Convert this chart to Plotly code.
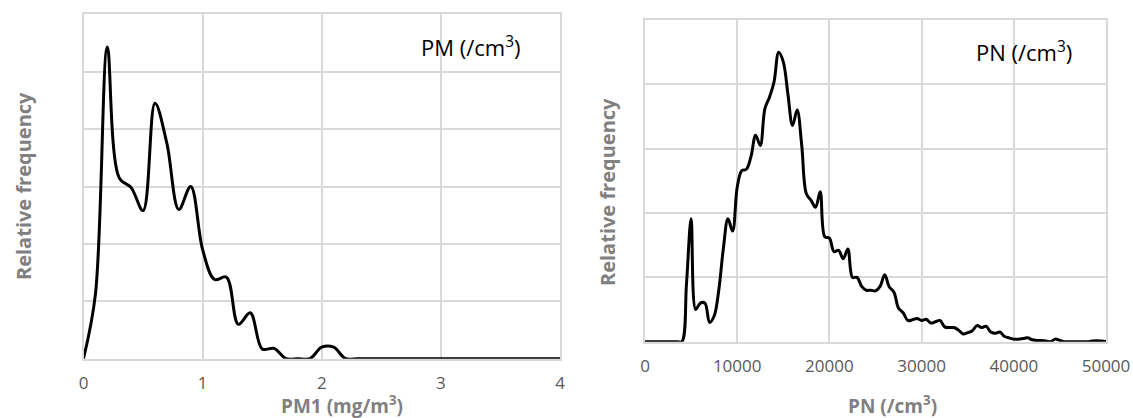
import plotly.graph_objects as go

# ---------------- data ----------------
# PM1 histogram (bins of 0.1 mg/m3), relative frequency (arbitrary units, grid = 1)
pm_x = [0.0, 0.1, 0.2, 0.3, 0.4, 0.5, 0.6, 0.7, 0.8, 0.9,
        1.0, 1.1, 1.2, 1.3, 1.4, 1.5, 1.6, 1.7, 1.8, 1.9,
        2.0, 2.1, 2.2, 2.3, 2.4, 2.5, 2.6, 2.7, 2.8, 2.9,
        3.0, 3.1, 3.2, 3.3, 3.4, 3.5, 3.6, 3.7, 3.8, 3.9, 4.0]
pm_freq = [0.0, 1.12, 5.43, 3.15, 2.98, 2.58, 4.45, 3.75, 2.6, 3.0,
           1.9, 1.38, 1.42, 0.6, 0.8, 0.17, 0.18, 0.0, 0.0, 0.0,
           0.2, 0.2, 0.0, 0.0, 0.0, 0.0, 0.0, 0.0, 0.0, 0.0,
           0.0, 0.0, 0.0, 0.0, 0.0, 0.0, 0.0, 0.0, 0.0, 0.0, 0.0]

# PN histogram (bins of 500 /cm3)
pn_x = list(range(0, 50001, 500))
pn_freq = [0, 0, 0, 0, 0, 0, 0, 0, 0, 0.9,            # 0 - 4500
           1.91, 0.5, 0.6, 0.6, 0.3, 0.4, 0.8, 1.45, 1.91, 1.72,   # 5000 - 9500
           2.4, 2.66, 2.68, 2.88, 3.21, 3.05, 3.62, 3.8, 4.04, 4.5,  # 10000 - 14500
           4.35, 3.85, 3.36, 3.6, 3.05, 2.3, 2.2, 2.09, 2.33, 1.63,  # 15000 - 19500
           1.61, 1.4, 1.42, 1.29, 1.44, 1.0, 1.0, 0.86, 0.8, 0.8,    # 20000 - 24500
           0.79, 0.86, 1.04, 0.85, 0.77, 0.52, 0.45, 0.33, 0.34, 0.36,  # 25000 - 29500
           0.33, 0.35, 0.29, 0.31, 0.33, 0.23, 0.22, 0.22, 0.18, 0.12,  # 30000 - 34500
           0.14, 0.17, 0.25, 0.22, 0.24, 0.15, 0.13, 0.15, 0.08, 0.06,  # 35000 - 39500
           0.04, 0.04, 0.05, 0.06, 0.03, 0.02, 0.02, 0.01, 0.0, 0.04,   # 40000 - 44500
           0.02, 0.0, 0.0, 0.0, 0.0, 0.0, 0.0, 0.01, 0.015, 0.01,       # 45000 - 49500
           0.005]                                                        # 50000

pm_ticks = [0, 1, 2, 3, 4]
pm_tick_labels = ["0", "1", "2", "3", "4"]
pn_ticks = [0, 10000, 20000, 30000, 40000, 50000]
pn_tick_labels = ["0", "10000", "20000", "30000", "40000", "50000"]

# ---------------- figure ----------------
W, H = 1133, 418


def px(x):
    return x / W


def py(y):
    return 1 - y / H


GRID = "#d9d9d9"
TICKC = "#595959"
TITLEC = "#808080"
FONT = "Open Sans"

fig = go.Figure()
fig.add_trace(go.Scatter(x=pm_x, y=pm_freq, mode="lines",
                         line=dict(color="black", width=3, shape="spline", smoothing=1),
                         xaxis="x", yaxis="y", hoverinfo="skip"))
fig.add_trace(go.Scatter(x=pn_x, y=pn_freq, mode="lines",
                         line=dict(color="black", width=3, shape="spline", smoothing=1),
                         xaxis="x2", yaxis="y2", hoverinfo="skip"))

common_x = dict(showgrid=True, gridcolor=GRID, gridwidth=1.5, zeroline=False,
                showline=True, linecolor=GRID, linewidth=1.5, mirror=True,
                ticks="", ticklabelstandoff=8, automargin=False,
                tickfont=dict(family=FONT, size=17, color=TICKC))
common_y = dict(showgrid=True, gridcolor=GRID, gridwidth=1.5, zeroline=False,
                showline=True, linecolor=GRID, linewidth=1.5, mirror=True,
                ticks="", showticklabels=False, dtick=1, automargin=False)

fig.update_layout(
    width=W, height=H,
    margin=dict(l=0, r=0, t=0, b=0, pad=0),
    paper_bgcolor="white", plot_bgcolor="white",
    showlegend=False,
    xaxis=dict(domain=[px(83.5), px(560)], range=[0, 4], tickvals=pm_ticks,
               ticktext=pm_tick_labels, anchor="y", **common_x),
    yaxis=dict(domain=[py(358.7), py(14.3)], range=[0, 6], anchor="x", **common_y),
    xaxis2=dict(domain=[px(645), px(1106)], range=[0, 50000], tickvals=pn_ticks,
                ticktext=pn_tick_labels, anchor="y2", **common_x),
    yaxis2=dict(domain=[py(341.7), py(20)], range=[0, 5], anchor="x2", **common_y),
)

ann_title = dict(family=FONT, size=20, color=TITLEC, weight="bold")
ann_xtitle = dict(family=FONT, size=19, color=TITLEC, weight="bold")
ann_label = dict(family=FONT, size=22, color="black")
annotations = [
    dict(text="Relative frequency", x=px(23), y=py(186), textangle=-90, font=ann_title),
    dict(text="Relative frequency", x=px(608), y=py(192), textangle=-90, font=ann_title),
    dict(text="PM1 (mg/m<sup>3</sup>)", x=px(342), y=py(405), font=ann_xtitle),
    dict(text="PN (/cm<sup>3</sup>)", x=px(892), y=py(405), font=ann_xtitle),
    dict(text="PM (/cm<sup>3</sup>)", x=px(471), y=py(47), font=ann_label),
    dict(text="PN (/cm<sup>3</sup>)", x=px(1024), y=py(52), font=ann_label),
]
for a in annotations:
    fig.add_annotation(xref="paper", yref="paper", showarrow=False,
                       xanchor="center", yanchor="middle", **a)

fig.write_html("out.html", config={"displayModeBar": False},
               post_script="document.body.style.margin='0px';")
